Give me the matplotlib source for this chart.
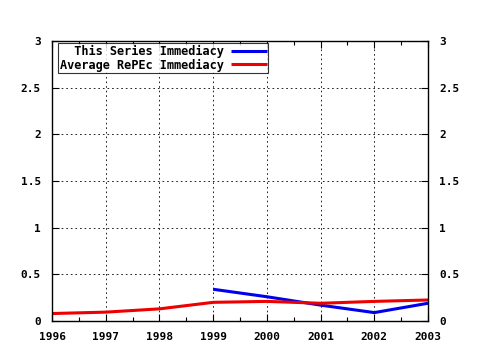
import matplotlib.pyplot as plt
from matplotlib.ticker import MultipleLocator

# data
years_series = [1999, 2000, 2001, 2002, 2003]
series_imm = [0.34, 0.26, 0.17, 0.09, 0.19]

years_avg = [1996, 1997, 1998, 1999, 2000, 2001, 2002, 2003]
avg_imm = [0.08, 0.095, 0.13, 0.20, 0.21, 0.19, 0.21, 0.225]

xticks = [1996, 1997, 1998, 1999, 2000, 2001, 2002, 2003]
yticks = [0, 0.5, 1, 1.5, 2, 2.5, 3]
ylabels = ['0', '0.5', '1', '1.5', '2', '2.5', '3']

font = {'family': 'DejaVu Sans Mono', 'weight': 'bold', 'size': 8}

fig = plt.figure(figsize=(4.8, 3.5), dpi=100)
ax = fig.add_axes([52 / 480, 1 - 321 / 350, 376 / 480, 280 / 350])

ax.plot(years_series, series_imm, color='#0000ee', lw=2.2,
        label='  This Series Immediacy', solid_capstyle='butt')
ax.plot(years_avg, avg_imm, color='#ee0000', lw=2.2,
        label='Average RePEc Immediacy', solid_capstyle='butt')

ax.set_xlim(1996, 2003)
ax.set_ylim(0, 3)
ax.set_xticks(xticks)
ax.set_xticklabels([str(x) for x in xticks], fontdict=font)
ax.set_yticks(yticks)
ax.set_yticklabels(ylabels, fontdict=font)
ax.xaxis.set_minor_locator(MultipleLocator(0.5))

ax.tick_params(which='both', direction='in', top=True, right=True,
               labelright=True, length=5, width=0.8, pad=8)
ax.tick_params(which='minor', length=3)
for t in ax.yaxis.get_major_ticks():
    t.label2.set_fontfamily('DejaVu Sans Mono')
    t.label2.set_fontweight('bold')
    t.label2.set_fontsize(8)

ax.grid(True, which='major', color='black', linestyle=(0, (2, 3.5)), lw=0.6)
for s in ax.spines.values():
    s.set_linewidth(1.0)

leg = ax.legend(loc='upper left', bbox_to_anchor=(6 / 376, 1 - 2 / 280),
                markerfirst=False, frameon=True, fancybox=False,
                prop={'family': 'DejaVu Sans Mono', 'weight': 'bold',
                      'size': 8.6},
                handlelength=3.0, borderpad=0.15, labelspacing=0.05,
                handletextpad=0.6, borderaxespad=0.0)
leg.get_frame().set_edgecolor('black')
leg.get_frame().set_linewidth(0.8)

fig.savefig('out.png', dpi=100)
